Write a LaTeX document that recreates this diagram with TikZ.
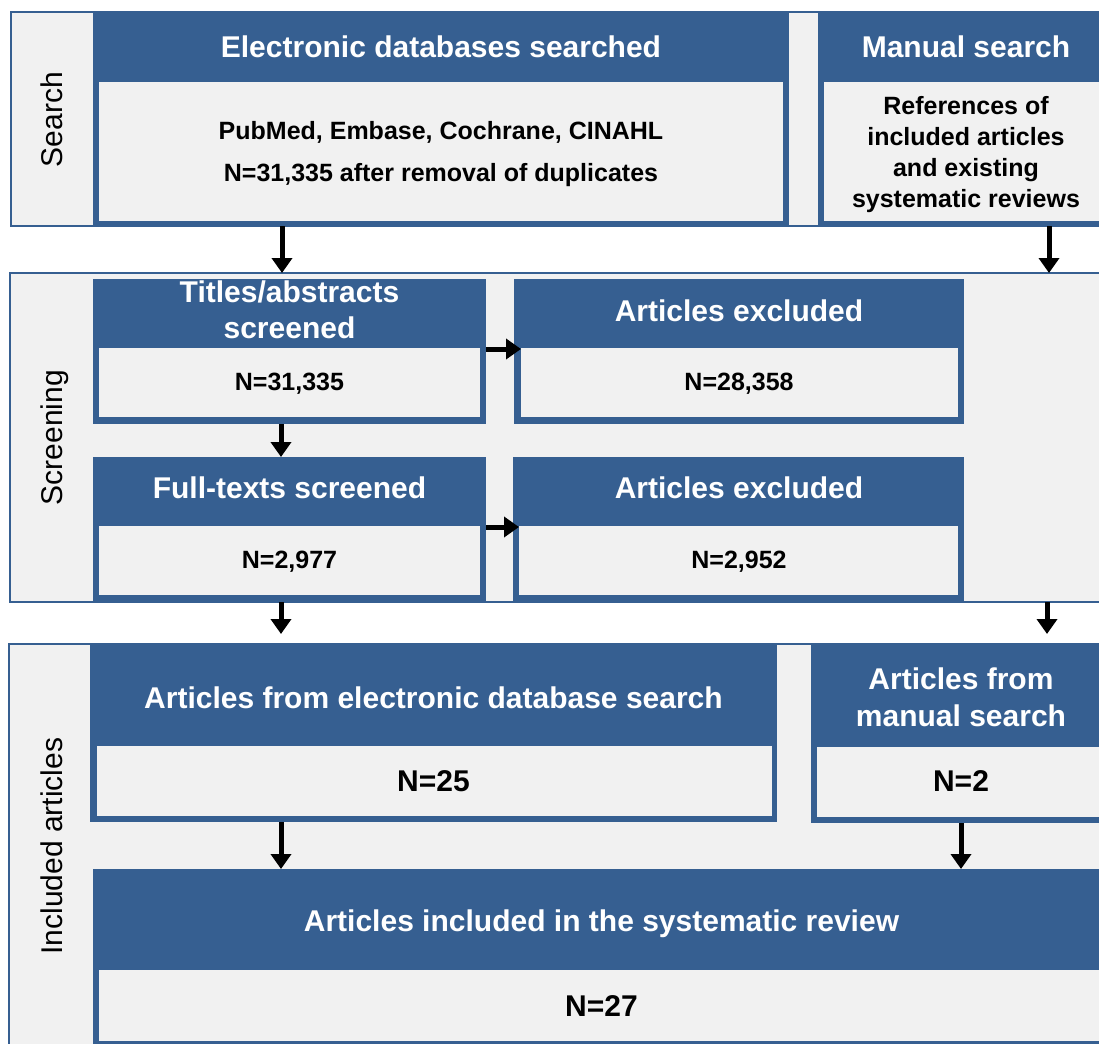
\documentclass[tikz,border=0pt]{standalone}
\usepackage{fontspec}
\setmainfont{Liberation Sans}
\usetikzlibrary{arrows.meta}
\definecolor{blu}{RGB}{54,95,145}
\definecolor{lg}{RGB}{241,241,241}
\begin{document}
\begin{tikzpicture}[x=1pt,y=-1pt,
  sect/.style={draw=blu, line width=2pt, fill=lg, anchor=north west, inner sep=0pt, outer sep=0pt},
  bbox/.style={fill=blu, anchor=north west, inner sep=0pt, outer sep=0pt},
  ibox/.style={fill=lg, anchor=north west, inner sep=0pt, outer sep=0pt},
  htext/.style={text=white, align=center, inner sep=0pt, text depth=0pt, font=\bfseries\fontsize{30}{36}\selectfont},
  htextb/.style={text=white, align=center, inner sep=0pt, text depth=0pt, font=\bfseries\fontsize{30}{37}\selectfont},
  btext/.style={text=black, align=center, inner sep=0pt, text depth=0pt, font=\bfseries\fontsize{25}{31}\selectfont},
  bwide/.style={text=black, align=center, inner sep=0pt, text depth=0pt, font=\bfseries\fontsize{25}{42}\selectfont},
  nbig/.style={text=black, align=center, inner sep=0pt, text depth=0pt, font=\bfseries\fontsize{30}{36}\selectfont},
  lbl/.style={text=black, rotate=90, inner sep=0pt, text depth=0pt, font=\fontsize{30}{36}\selectfont},
  arr/.style={-{Triangle[length=15pt,width=20pt]}, line width=5pt, black}
]
\useasboundingbox (0,0) rectangle (1099,1043);
\clip (0,0) rectangle (1099,1043);

% ---------- Search ----------
\node[sect, minimum width=1104pt, minimum height=214pt] (srch) at (11,12) {};
\node[bbox, minimum width=696pt, minimum height=214pt] (db) at (93,12) {};
\node[ibox, minimum width=684pt, minimum height=139pt] (dbin) at (99,82) {};
\node[bbox, minimum width=296pt, minimum height=214pt] (ms) at (818,12) {};
\node[ibox, minimum width=284pt, minimum height=139pt] (msin) at (824,82) {};

\node[lbl] (lsearch) at (52,119.5) {Search};
\node[htext] (tdb) at (441,47) {Electronic databases searched};
\node[bwide] (tdbb) at (441,151) {PubMed, Embase, Cochrane, CINAHL\\N=31,335 after removal of duplicates};
\node[htext] (tms) at (966,47) {Manual search};
\node[btext] (tmsb) at (966,152) {References of\\included articles\\and existing\\systematic reviews};

% ---------- Screening ----------
\node[sect, minimum width=1105pt, minimum height=329pt] (scr) at (9.5,273) {};
\node[bbox, minimum width=393pt, minimum height=145pt] (tit) at (93,279) {};
\node[ibox, minimum width=381pt, minimum height=69pt] (titin) at (99,348) {};
\node[bbox, minimum width=393pt, minimum height=145pt] (full) at (93,457) {};
\node[ibox, minimum width=381pt, minimum height=69pt] (fullin) at (99,526) {};
\node[bbox, minimum width=450pt, minimum height=145pt] (ex1) at (514,279) {};
\node[ibox, minimum width=437pt, minimum height=69pt] (ex1in) at (521,348) {};
\node[bbox, minimum width=451pt, minimum height=144pt] (ex2) at (513,457) {};
\node[ibox, minimum width=439pt, minimum height=69pt] (ex2in) at (519,526) {};

\node[lbl] (lscr) at (52,437.5) {Screening};
\node[htext] (ttit) at (289.5,310) {Titles/abstracts\\screened};
\node[btext] (ttitb) at (289.5,382) {N=31,335};
\node[htext] (tfull) at (289.5,488) {Full-texts screened};
\node[btext] (tfullb) at (289.5,560) {N=2,977};
\node[htext] (tex1) at (739,310.5) {Articles excluded};
\node[btext] (tex1b) at (739,382) {N=28,358};
\node[htext] (tex2) at (739,488) {Articles excluded};
\node[btext] (tex2b) at (739,560) {N=2,952};

% ---------- Included ----------
\node[sect, minimum width=1106pt, minimum height=404pt] (inc) at (9,644) {};
\node[bbox, minimum width=687pt, minimum height=178pt] (db2) at (90,644) {};
\node[ibox, minimum width=675pt, minimum height=70pt] (db2in) at (97,746) {};
\node[bbox, minimum width=300pt, minimum height=179pt] (ms2) at (811,644) {};
\node[ibox, minimum width=288pt, minimum height=70pt] (ms2in) at (817,747) {};
\node[bbox, minimum width=1016pt, minimum height=178pt] (fin) at (93,869) {};
\node[ibox, minimum width=1004pt, minimum height=71pt] (finin) at (99,970) {};

\node[lbl] (linc) at (52,846) {Included articles};
\node[htext] (tdb2) at (433.5,698) {Articles from electronic database search};
\node[nbig] (tdb2b) at (433.5,781) {N=25};
\node[htextb] (tms2) at (961,697.5) {Articles from\\manual search};
\node[nbig] (tms2b) at (961,781.5) {N=2};
\node[htext] (tfin) at (601.5,920.5) {Articles included in the systematic review};
\node[nbig] (tfinb) at (601.5,1006.5) {N=27};

% ---------- Arrows ----------
\coordinate (xa) at (282,0);
\coordinate (xb) at (1049,0);
\coordinate (xc) at (281,0);
\coordinate (xd) at (1047,0);
\coordinate (xe) at (961,0);
\coordinate (ya) at (0,349);
\coordinate (yb) at (0,527);

\draw[arr] (db.south -| xa) -- (scr.north -| xa);
\draw[arr] (ms.south -| xb) -- (scr.north -| xb);
\draw[arr] (tit.south -| xc) -- (full.north -| xc);
\draw[arr] (tit.east |- ya) -- (ex1in.west |- ya);
\draw[arr] (full.east |- yb) -- (ex2in.west |- yb);
\draw[arr, shorten >=10pt] (scr.south -| xc) -- (inc.north -| xc);
\draw[arr, shorten >=10pt] (scr.south -| xd) -- (inc.north -| xd);
\draw[arr] (db2.south -| xc) -- (fin.north -| xc);
\draw[arr] (ms2.south -| xe) -- (fin.north -| xe);
\end{tikzpicture}
\end{document}
